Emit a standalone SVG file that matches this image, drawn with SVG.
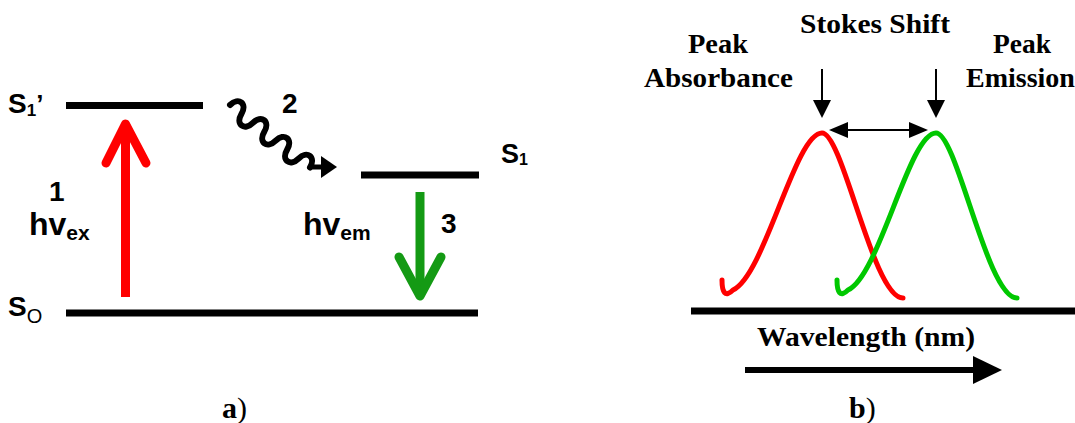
<svg xmlns="http://www.w3.org/2000/svg" width="1075" height="423" viewBox="0 0 1075 423">
<style>
.lbl{font-family:"Liberation Sans",Arial,sans-serif;font-weight:bold;fill:#000}
.ser{font-family:"Liberation Serif","Times New Roman",serif;font-weight:bold;fill:#000}
.lvl{stroke:#000;stroke-width:7;fill:none}
.thin{stroke:#000;stroke-width:2;fill:none}
</style>
<rect width="1075" height="423" fill="#fff"/>

<g id="panel-a">
<g id="level-S1prime"><line class="lvl" x1="66" y1="105.5" x2="203" y2="105.5"/>
<text class="lbl" x="8" y="113" font-size="28">S<tspan font-size="17" dy="3">1</tspan><tspan font-size="26" dy="-3">’</tspan></text></g>
<g id="level-S1"><line class="lvl" x1="361" y1="175" x2="479" y2="175"/>
<text class="lbl" x="501" y="163" font-size="27">S<tspan font-size="16" dy="2">1</tspan></text></g>
<g id="level-S0"><line class="lvl" x1="66" y1="313" x2="478" y2="313" stroke-width="8"/>
<text class="lbl" x="8" y="316" font-size="28">S<tspan font-size="20" font-weight="normal" dy="7">O</tspan></text></g>
<g id="label-1"><text class="lbl" x="49" y="201" font-size="28">1</text>
<text class="lbl" x="29" y="235" font-size="32">hv<tspan font-size="21" dy="5">ex</tspan></text></g>
<g id="label-2"><text class="lbl" x="282" y="113" font-size="28">2</text></g>
<g id="label-3"><text class="lbl" x="303" y="235" font-size="32">hv<tspan font-size="21" dy="5">em</tspan></text>
<text class="lbl" x="441" y="233" font-size="28">3</text></g>
<text class="ser" x="222" y="418" font-size="30">a<tspan font-weight="normal">)</tspan></text>
</g>

<g id="connectors">
<g id="arrow-excitation" stroke="#ff0000" stroke-width="9" fill="none" stroke-linecap="butt" stroke-linejoin="round">
<line x1="125.5" y1="297" x2="125.5" y2="128"/>
<polyline points="106,163 125.5,124 146,163" stroke-linecap="round"/>
</g>
<g id="arrow-emission" stroke="#149a14" stroke-width="9" fill="none" stroke-linejoin="round">
<line x1="420" y1="192" x2="420" y2="292"/>
<polyline points="399,257 420,296 441,257" stroke-linecap="round"/>
</g>
<g id="arrow-relaxation">
<path transform="translate(230,105) rotate(38)" d="M0,0 C1.5,-12 13,-12 14.5,0 S27.5,12 29,0 S42,-12 43.5,0 S56.5,12 58,0 S71,-12 72.5,0 S85.5,12 87,0 S100,-12 101.5,0" stroke="#000" stroke-width="6" fill="none" stroke-linecap="round"/>
<line x1="310" y1="167" x2="324" y2="167" stroke="#000" stroke-width="5" stroke-linecap="round"/>
<path d="M337,167 L321,156 L321,178 z" fill="#000"/>
</g>
</g>

<g id="panel-b">
<g id="curve-absorbance"><path d="M722,280 C722,292 725,298 733,290 C765,275 795,133 822,133 C843,133 873,298 903,298" stroke="#ff0000" stroke-width="5" fill="none" stroke-linecap="round"/></g>
<g id="curve-emission"><path d="M837,280 C837,292 840,298 848,290 C880,275 909,133 936,133 C957,133 987,298 1017,298" stroke="#00c800" stroke-width="5" fill="none" stroke-linecap="round"/></g>
<g id="axis"><line class="lvl" x1="691" y1="311" x2="1075" y2="311"/>
<text class="ser" x="757" y="346" font-size="27" textLength="218" lengthAdjust="spacingAndGlyphs">Wavelength (nm)</text>
<line x1="745" y1="370" x2="976" y2="370" stroke="#000" stroke-width="6"/>
<path d="M1002,370 L973,356 L973,384 z" fill="#000"/></g>
<g id="label-stokes"><text class="ser" x="800" y="33" font-size="27" textLength="150" lengthAdjust="spacingAndGlyphs">Stokes Shift</text></g>
<g id="label-peak-abs"><text class="ser" x="688" y="53" font-size="28" textLength="60" lengthAdjust="spacingAndGlyphs">Peak</text>
<text class="ser" x="644" y="87" font-size="28" textLength="149" lengthAdjust="spacingAndGlyphs">Absorbance</text></g>
<g id="label-peak-em"><text class="ser" x="993" y="53" font-size="28" textLength="58" lengthAdjust="spacingAndGlyphs">Peak</text>
<text class="ser" x="966" y="87" font-size="28">Emission</text></g>
<text class="ser" x="849" y="418" font-size="30">b<tspan font-weight="normal">)</tspan></text>
<g id="connectors-b">
<line class="thin" x1="822" y1="69" x2="822" y2="100"/>
<path d="M822,118 L813,100 L831,100 z" fill="#000"/>
<line class="thin" x1="936" y1="69" x2="936" y2="100"/>
<path d="M936,118 L927,100 L945,100 z" fill="#000"/>
<line class="thin" x1="845" y1="130" x2="912" y2="130"/>
<path d="M829,130 L848,122 L848,138 z" fill="#000"/>
<path d="M928,130 L909,122 L909,138 z" fill="#000"/>
</g>
</g>
</svg>
